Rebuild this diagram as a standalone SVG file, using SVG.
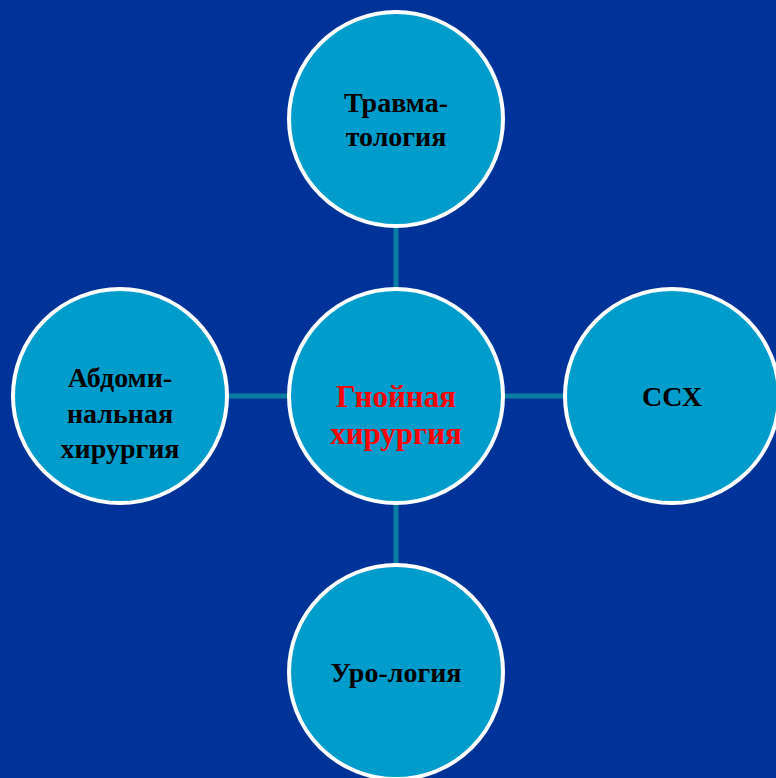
<svg xmlns="http://www.w3.org/2000/svg" width="776" height="778" viewBox="0 0 776 778">
<style>
.node circle{fill:#009ccc;stroke:#ffffff;stroke-width:4}
.node text{font-family:"Liberation Serif","Times New Roman",serif;font-weight:bold;font-size:28px;fill:#000000;text-anchor:middle}
.node text.hl{fill:#ff0000;font-size:31px}
.conn line{stroke:#0a7ea3;stroke-width:5}
</style>
<rect x="0" y="0" width="776" height="778" fill="#003399"/>
<g id="connectors" class="conn">
<line x1="396" y1="228" x2="396" y2="288"/>
<line x1="396" y1="505" x2="396" y2="564"/>
<line x1="229" y1="396" x2="288" y2="396"/>
<line x1="505" y1="396" x2="564" y2="396"/>
</g>
<g id="center" class="node">
<circle cx="396" cy="396" r="107"/>
<text class="hl" x="396" y="407">Гнойная</text>
<text class="hl" x="396" y="444">хирургия</text>
</g>
<g id="top" class="node">
<circle cx="396" cy="119" r="107"/>
<text x="396" y="112">Травма-</text>
<text x="396" y="146">тология</text>
</g>
<g id="left" class="node">
<circle cx="120" cy="396" r="107"/>
<text x="120" y="387">Абдоми-</text>
<text x="120" y="423">нальная</text>
<text x="120" y="458">хирургия</text>
</g>
<g id="right" class="node">
<circle cx="672" cy="396" r="107"/>
<text x="672" y="406">ССХ</text>
</g>
<g id="bottom" class="node">
<circle cx="396" cy="672" r="107"/>
<text x="396" y="682">Уро-логия</text>
</g>
</svg>
